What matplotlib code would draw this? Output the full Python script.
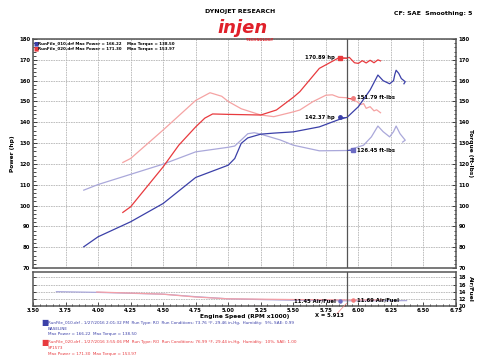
import numpy as np
import matplotlib.pyplot as plt
from matplotlib.ticker import MultipleLocator

# run 010 (baseline)
rpm_hp1 = [3.89, 4.0, 4.25, 4.5, 4.75, 5.0, 5.05, 5.10, 5.15, 5.2, 5.25, 5.35, 5.5, 5.7, 5.85, 5.913,
           6.0, 6.09, 6.15, 6.19, 6.24, 6.27, 6.28, 6.29, 6.31, 6.33, 6.36, 6.35]
hp1 = [80.2, 85.0, 92.2, 101.0, 113.5, 119.4, 122.6, 129.9, 132.5, 133.4, 134.3, 134.8, 135.4, 137.8, 141.3, 142.37,
       147.5, 155.5, 162.7, 160.0, 158.5, 160.0, 163.0, 165.0, 163.5, 161.0, 159.5, 158.5]
rpm_tq1 = [3.89, 4.0, 4.25, 4.5, 4.75, 5.0, 5.05, 5.1, 5.15, 5.2, 5.25, 5.4, 5.5, 5.7, 5.913,
           6.04, 6.1, 6.15, 6.19, 6.24, 6.27, 6.29, 6.32, 6.36, 6.34]
tq1 = [107.4, 110.1, 115.0, 119.9, 125.8, 128.0, 128.6, 131.5, 134.5, 135.0, 134.3, 131.5, 129.0, 126.3, 126.45,
       129.0, 133.0, 138.2, 135.5, 133.0, 135.5, 138.2, 134.5, 131.4, 130.5]

# run 020 (SP1573)
rpm_hp2 = [4.19, 4.25, 4.5, 4.62, 4.75, 4.82, 4.88, 5.0, 5.25, 5.37, 5.5, 5.55, 5.7, 5.85, 5.913, 5.93,
           5.97, 6.0, 6.03, 6.06, 6.09, 6.12, 6.15, 6.17]
hp2 = [96.7, 99.4, 118.6, 129.0, 137.8, 142.0, 144.0, 143.8, 143.5, 145.9, 152.0, 154.7, 165.9, 171.0, 170.89, 171.2,
       168.6, 168.3, 169.6, 168.5, 169.8, 168.6, 170.0, 169.5]
rpm_tq2 = [4.19, 4.25, 4.5, 4.75, 4.86, 4.95, 5.0, 5.1, 5.25, 5.35, 5.5, 5.55, 5.65, 5.75, 5.8, 5.85, 5.913,
           5.99, 6.02, 6.04, 6.06, 6.09, 6.12, 6.14, 6.17]
tq2 = [120.7, 122.6, 136.3, 150.5, 154.2, 152.5, 150.0, 146.5, 143.5, 142.7, 145.0, 145.9, 149.9, 153.0, 153.2, 152.0, 151.79,
       149.9, 148.5, 149.0, 146.7, 147.5, 145.5, 146.0, 144.6]

# air/fuel
rpm_af1 = [3.68, 4.0, 4.5, 4.75, 5.0, 5.25, 5.5, 5.913, 6.1, 6.37]
af1 = [14.0, 13.8, 13.3, 12.6, 12.0, 11.8, 11.6, 11.45, 11.45, 11.5]
rpm_af2 = [3.99, 4.25, 4.5, 4.75, 5.0, 5.5, 5.913, 6.19]
af2 = [13.9, 13.6, 13.3, 12.5, 12.0, 11.8, 11.69, 11.7]

cursor = 5.913
c_hp1, c_hp2, c_tq1, c_tq2 = 142.37, 170.89, 126.45, 151.79
c_af1, c_af2 = 11.45, 11.69

blue = '#3b40a8'
lblue = '#aaa8da'
red = '#e83a3e'
lred = '#f5a3a3'
grid_kw = dict(color='#b5b5b5', linestyle=(0, (2, 1)), linewidth=0.6)
fs = 3.8

fig = plt.figure(figsize=(4.8, 3.61), dpi=100)
ax = fig.add_axes([0.06875, 0.2576, 0.88125, 0.6343])
ax2 = fig.add_axes([0.06875, 0.1524, 0.88125, 0.0942])

ax.plot(rpm_tq1, tq1, color=lblue, lw=0.9)
ax.plot(rpm_tq2, tq2, color=lred, lw=0.9)
ax.plot(rpm_hp1, hp1, color=blue, lw=0.9)
ax.plot(rpm_hp2, hp2, color=red, lw=0.9)
ax.axvline(cursor, color='#555555', lw=0.9)

# cursor readouts
ax.plot([5.86, cursor], [c_hp2, c_hp2], color=red, lw=0.6)
ax.plot(5.86, c_hp2, 's', color=red, ms=2.5)
ax.text(5.82, c_hp2, '170.89 hp', fontsize=fs, fontweight='bold', ha='right', va='center')
ax.plot([5.86, cursor], [c_hp1, c_hp1], color=blue, lw=0.6)
ax.plot(5.86, c_hp1, 'o', color=blue, ms=2.5)
ax.text(5.82, c_hp1, '142.37 hp', fontsize=fs, fontweight='bold', ha='right', va='center')
ax.plot([cursor, 5.96], [c_tq2, c_tq2], color=red, lw=0.6)
ax.plot(5.96, c_tq2, 'o', color='#f07c7c', ms=2.5)
ax.text(5.99, c_tq2, '151.79 ft-lbs', fontsize=fs, fontweight='bold', ha='left', va='center')
ax.plot([cursor, 5.96], [c_tq1, c_tq1], color=blue, lw=0.6)
ax.plot(5.96, c_tq1, 's', color='#6d6cc4', ms=2.5)
ax.text(5.99, c_tq1, '126.45 ft-lbs', fontsize=fs, fontweight='bold', ha='left', va='center')

ax.set_xlim(3.5, 6.75)
ax.set_ylim(70, 180)
ax.xaxis.set_major_locator(MultipleLocator(0.25))
ax.yaxis.set_major_locator(MultipleLocator(10))
ax.yaxis.set_minor_locator(MultipleLocator(2))
ax.grid(True, **grid_kw)
ax.tick_params(axis='x', labelbottom=False, length=0)
ax.tick_params(axis='y', which='both', left=True, right=True, labelleft=True, labelright=True,
               labelsize=fs, direction='in', width=0.5, pad=2)
ax.tick_params(axis='y', which='major', length=3)
ax.tick_params(axis='y', which='minor', length=1.8)
for lab in ax.get_yticklabels():
    lab.set_fontweight('bold')
for s in ax.spines.values():
    s.set_color('#555555')
    s.set_linewidth(1.1)
ax.set_ylabel('Power (hp)', fontsize=4.2, fontweight='bold', labelpad=3)
ax.text(1.035, 0.5, 'Torque (ft-lbs)', transform=ax.transAxes, rotation=-90,
        fontsize=4.2, fontweight='bold', ha='center', va='center')

# in-plot legend
lfs = 2.9
ax.text(0.002, 0.99, '\u25a0', transform=ax.transAxes, color=blue, fontsize=4.0, va='top')
ax.text(0.002, 0.968, '\u25a0', transform=ax.transAxes, color=red, fontsize=4.0, va='top')
ax.text(0.013, 0.988, 'RunFile_010.drf Max Power = 166.22', transform=ax.transAxes, fontsize=lfs, fontweight='bold', va='top')
ax.text(0.013, 0.966, 'RunFile_020.drf Max Power = 171.30', transform=ax.transAxes, fontsize=lfs, fontweight='bold', va='top')
ax.text(0.222, 0.988, 'Max Torque = 138.50', transform=ax.transAxes, fontsize=lfs, fontweight='bold', va='top')
ax.text(0.222, 0.966, 'Max Torque = 153.97', transform=ax.transAxes, fontsize=lfs, fontweight='bold', va='top')

# air/fuel panel
ax2.plot(rpm_af1, af1, color=lblue, lw=0.9)
ax2.plot(rpm_af2, af2, color='#f3a0a8', lw=0.9)
ax2.axvline(cursor, color='#555555', lw=0.9)
ax2.plot(5.86, c_af1, 'o', color='#6d6cc4', ms=2.2)
ax2.text(5.83, c_af1, '11.45 Air/Fuel', fontsize=fs, fontweight='bold', ha='right', va='center')
ax2.plot(5.96, c_af2, 'o', color='#f07c7c', ms=2.2)
ax2.text(5.99, c_af2, '11.69 Air/Fuel', fontsize=fs, fontweight='bold', ha='left', va='center')
ax2.set_xlim(3.5, 6.75)
ax2.set_ylim(10, 19.5)
ax2.xaxis.set_major_locator(MultipleLocator(0.25))
ax2.xaxis.set_minor_locator(MultipleLocator(0.05))
ax2.yaxis.set_major_locator(MultipleLocator(2))
ax2.grid(True, axis='y', **grid_kw)
ax2.tick_params(axis='x', which='both', labelsize=fs, direction='in', width=0.5, pad=1.5, top=False)
ax2.tick_params(axis='x', which='major', length=3)
ax2.tick_params(axis='x', which='minor', length=1.8)
ax2.tick_params(axis='y', left=True, right=True, labelleft=False, labelright=True, labelsize=fs,
                direction='in', length=2.5, width=0.5, pad=2)
ax2.set_xticklabels(['%.2f' % v for v in ax2.get_xticks()])
for lab in ax2.get_xticklabels() + ax2.get_yticklabels():
    lab.set_fontweight('bold')
for s in ax2.spines.values():
    s.set_color('#555555')
    s.set_linewidth(1.1)
ax2.set_xlabel('Engine Speed (RPM x1000)', fontsize=4.2, fontweight='bold', labelpad=1)
ax2.text(1.035, 0.5, 'Air/Fuel', transform=ax2.transAxes, rotation=-90,
         fontsize=4.2, fontweight='bold', ha='center', va='center')
fig.text(0.687, 0.127, 'X = 5.913', fontsize=fs, fontweight='bold', ha='center', va='center')
fig.add_artist(plt.Line2D([0.702, 0.722], [0.131, 0.16], color='#f08080', lw=0.5))

# header
fig.text(0.5, 0.967, 'DYNOJET RESEARCH', fontsize=4.5, fontweight='bold', ha='center', va='center')
fig.text(0.505, 0.908, 'injen', fontsize=13, fontweight='bold', style='italic', color='#e0202a',
         ha='center', va='baseline')
fig.text(0.54, 0.889, 'TECHNOLOGY', fontsize=2.6, fontweight='bold', color='#e0202a', ha='center', va='center')
fig.text(0.985, 0.962, 'CF: SAE  Smoothing: 5', fontsize=4.5, fontweight='bold', ha='right', va='center')

# run details
dfs = 3.0
fig.text(0.086, 0.106, '\u25a0', color=blue, fontsize=5.5, va='center')
fig.text(0.099, 0.106, 'RunFile_010.drf - 1/27/2016 2:01:32 PM  Run Type: RO  Run Conditions: 73.76 \u00b0F, 29.46 in-Hg,  Humidity:  9%, SAE: 0.99',
         color=blue, fontsize=dfs, va='center')
fig.text(0.099, 0.090, 'BASELINE', color=blue, fontsize=dfs, va='center')
fig.text(0.099, 0.074, 'Max Power = 166.22  Max Torque = 138.50', color=blue, fontsize=dfs, va='center')
fig.text(0.086, 0.052, '\u25a0', color=red, fontsize=5.5, va='center')
fig.text(0.099, 0.052, 'RunFile_020.drf - 1/27/2016 3:55:06 PM  Run Type: RO  Run Conditions: 76.99 \u00b0F, 29.44 in-Hg,  Humidity:  10%, SAE: 1.00',
         color=red, fontsize=dfs, va='center')
fig.text(0.099, 0.036, 'SP1573', color=red, fontsize=dfs, va='center')
fig.text(0.099, 0.020, 'Max Power = 171.30  Max Torque = 153.97', color=red, fontsize=dfs, va='center')

fig.savefig('out.png', dpi=100)
